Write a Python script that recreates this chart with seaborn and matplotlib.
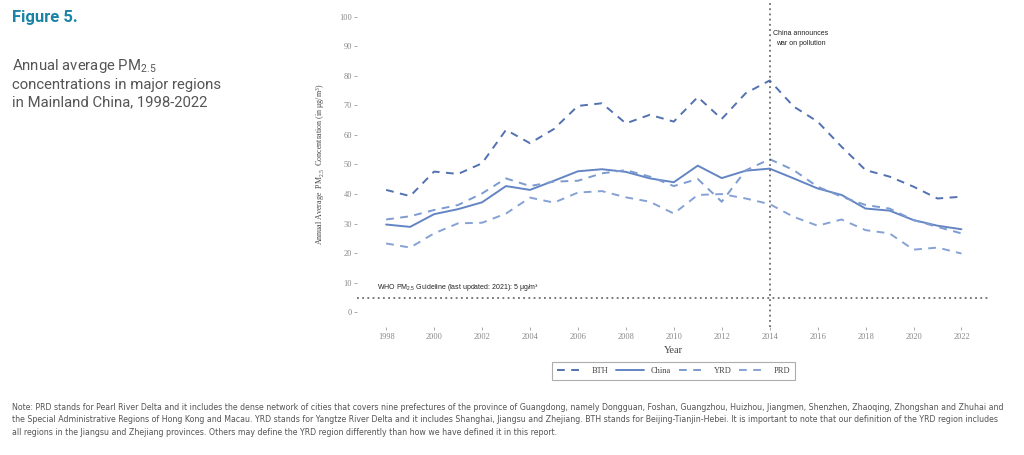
import matplotlib
matplotlib.use("Agg")
import matplotlib.pyplot as plt
import seaborn as sns
import pandas as pd

years = list(range(1998, 2023))
bth = [41.4, 39.3, 47.6, 46.8, 50.4, 61.7, 57.2, 62.0, 69.8, 70.7, 63.9, 66.8, 64.5,
       72.8, 65.4, 74.1, 78.4, 69.6, 64.5, 56.0, 48.1, 45.9, 42.5, 38.5, 39.1]
china = [29.7, 28.9, 33.2, 34.9, 37.2, 42.7, 41.4, 44.5, 47.7, 48.4, 47.5, 45.3, 44.0,
         49.6, 45.4, 47.9, 48.6, 45.3, 41.9, 39.7, 35.1, 34.4, 31.2, 29.3, 28.1]
yrd = [31.4, 32.5, 34.6, 36.3, 40.2, 45.3, 42.7, 44.2, 44.5, 47.0, 48.1, 45.9, 42.7,
       45.1, 37.4, 48.0, 51.8, 48.1, 42.5, 39.1, 36.3, 35.1, 31.2, 28.9, 26.7]
prd = [23.3, 21.9, 26.7, 30.1, 30.3, 33.4, 38.8, 37.1, 40.5, 41.0, 38.9, 37.4, 33.4,
       39.7, 40.0, 38.5, 36.6, 32.3, 29.3, 31.4, 27.8, 26.7, 21.2, 21.9, 19.9]
regions = ["BTH", "China", "YRD", "PRD"]
y_ticks = list(range(0, 101, 10))
x_ticks = list(range(1998, 2023, 2))
who_level = 5
policy_year = 2014

df = pd.DataFrame({"Year": years, "BTH": bth, "China": china, "YRD": yrd, "PRD": prd})
long = df.melt(id_vars="Year", var_name="Region", value_name="PM25")

sns.set_theme(style="white")
plt.rcParams["mathtext.default"] = "regular"

palette = {"BTH": "#5271b0", "China": "#6385c3", "YRD": "#7d9bd0", "PRD": "#86a2d4"}
dashes = {"BTH": (4, 3.3), "China": "", "YRD": (4, 3.3), "PRD": (4, 3.3)}

fig = plt.figure(figsize=(10.24, 4.55), dpi=100)
ax = fig.add_axes([0.349, 0.281, 0.618, 0.715])

sns.lineplot(data=long, x="Year", y="PM25", hue="Region", style="Region",
             hue_order=regions, style_order=regions, palette=palette, dashes=dashes,
             linewidth=1.4, ax=ax)

ax.axhline(who_level, color="#555555", linestyle=(0, (1.2, 2.2)), linewidth=1.1)
ax.axvline(policy_year, color="#555555", linestyle=(0, (1.2, 2.2)), linewidth=1.1)

ax.set_xlim(1996.8, 2023.2)
ax.set_ylim(-5, 105)
ax.set_xticks(x_ticks)
ax.set_yticks(y_ticks)
for s in ax.spines.values():
    s.set_visible(False)
ax.tick_params(axis="both", which="both", length=2, width=0.6, color="#999999",
               labelsize=6, labelcolor="#888888", pad=2, left=True, bottom=True)
for lab in ax.get_xticklabels() + ax.get_yticklabels():
    lab.set_family("Liberation Serif")

ax.set_xlabel("Year", family="Liberation Serif", fontsize=7.5, color="#444444", labelpad=4)
ax.set_ylabel(r"Annual Average  PM$_{2.5}$  Concentration (in μg/m$^{3}$)",
              family="Liberation Serif", fontsize=5.8, color="#444444", labelpad=9)

ax.text(2015.3, 92.7, "China announces\nwar on pollution", ha="center", va="center",
        fontsize=5, color="#222222", family="Liberation Sans", linespacing=1.6)
ax.text(1997.6, 8.4, r"WHO PM$_{2.5}$ Guideline (last updated: 2021): 5 μg/m³",
        ha="left", va="center", fontsize=5, color="#222222", family="Liberation Sans")

handles, labels = ax.get_legend_handles_labels()
leg = ax.legend(handles, labels, loc="center", bbox_to_anchor=(0.5, -0.135), ncol=4,
                frameon=True, fancybox=False, edgecolor="#999999",
                handlelength=3.3, columnspacing=0.9, handletextpad=0.9,
                borderpad=0.55, prop={"family": "Liberation Serif", "size": 6})
leg.get_frame().set_linewidth(0.8)
for t in leg.get_texts():
    t.set_color("#444444")

fig.text(0.012, 0.962, "Figure 5.", fontsize=12, fontweight="bold", color="#1a84a6",
         family="Roboto", va="center")
fig.text(0.012, 0.818, "Annual average PM$_{2.5}$\nconcentrations in major regions\nin Mainland China, 1998-2022",
         fontsize=10.7, color="#555555", family="Roboto", va="center", linespacing=1.3)

note = ("Note: PRD stands for Pearl River Delta and it includes the dense network of cities that covers nine prefectures of the province of Guangdong, namely Dongguan, Foshan, Guangzhou, Huizhou, Jiangmen, Shenzhen, Zhaoqing, Zhongshan and Zhuhai and\n"
        "the Special Administrative Regions of Hong Kong and Macau. YRD stands for Yangtze River Delta and it includes Shanghai, Jiangsu and Zhejiang. BTH stands for Beijing-Tianjin-Hebei. It is important to note that our definition of the YRD region includes\n"
        "all regions in the Jiangsu and Zhejiang provinces. Others may define the YRD region differently than how we have defined it in this report.")
fig.text(0.012, 0.077, note, fontsize=5.7, color="#555555", family="Liberation Sans Narrow",
         va="center", linespacing=1.5)

fig.savefig("out.png", dpi=100, facecolor="white")
